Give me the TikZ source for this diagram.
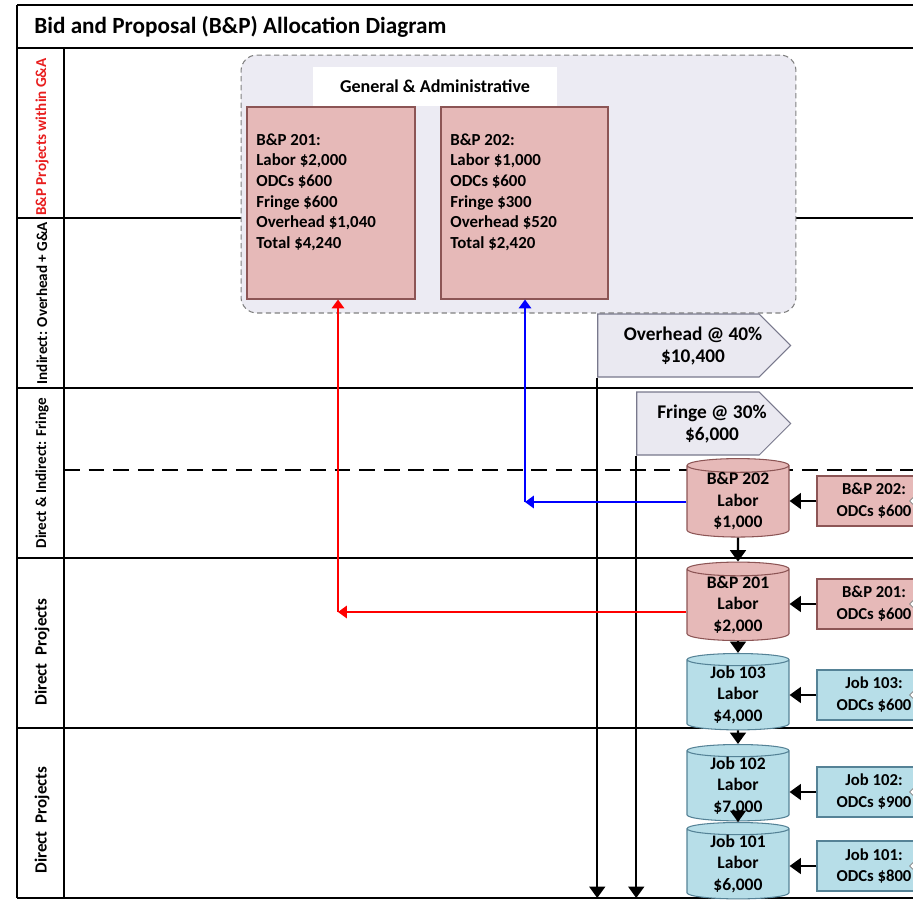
\documentclass[tikz,border=0pt]{standalone}
\usepackage{fontspec}
\setmainfont{Carlito}
\usetikzlibrary{arrows.meta}
\usetikzlibrary{shapes.geometric}
\usetikzlibrary{shapes.symbols}

\definecolor{bpfill}{RGB}{230,185,184}
\definecolor{bpdraw}{RGB}{140,85,85}
\definecolor{jobfill}{RGB}{183,222,232}
\definecolor{jobdraw}{RGB}{85,130,150}
\definecolor{gafill}{RGB}{236,235,243}
\definecolor{sigfill}{RGB}{234,233,241}
\definecolor{sigdraw}{RGB}{120,120,140}
\definecolor{lanered}{RGB}{232,30,30}

\tikzset{
  lane/.style={line width=0.8pt},
  lanelabel/.style={rotate=90, inner sep=0pt, font=\fontsize{8.6}{10}\selectfont\bfseries},
  gacont/.style={draw=gray, densely dashed, line width=0.6pt, fill=gafill, rounded corners=9pt,
    minimum width=11.1cm, minimum height=5.16cm},
  galabel/.style={fill=white, minimum width=4.88cm, minimum height=0.78cm,
    font=\fontsize{10.3}{12}\selectfont\bfseries},
  bpbox/.style={draw=bpdraw, fill=bpfill, line width=0.6pt, minimum height=3.84cm},
  boxtext/.style={anchor=north west, inner sep=0pt, align=left,
    font=\fontsize{9.6}{11.8}\selectfont\bfseries},
  rate/.style={shape=signal, signal to=east, signal pointer angle=90, draw=sigdraw, fill=sigfill,
    line width=0.6pt, minimum height=1.26cm, inner sep=0pt},
  ratetext/.style={align=center, inner sep=0pt, font=\fontsize{11}{13}\selectfont\bfseries},
  labor/.style={shape=cylinder, shape border rotate=90, aspect=0.22, draw, line width=0.6pt,
    minimum width=2.04cm, minimum height=1.28cm, inner sep=0pt, align=center,
    font=\fontsize{10}{12.2}\selectfont\bfseries},
  bplabor/.style={labor, draw=bpdraw, fill=bpfill},
  joblabor/.style={labor, draw=jobdraw, fill=jobfill},
  odc/.style={draw, line width=0.6pt, minimum width=2.28cm, minimum height=1.0cm, align=center,
    inner sep=0pt, font=\fontsize{9.5}{12.5}\selectfont\bfseries},
  bpodc/.style={odc, draw=bpdraw, fill=bpfill},
  jobodc/.style={odc, draw=jobdraw, fill=jobfill},
  tipmark/.style={diamond, draw=gray, fill=white, inner sep=0pt, minimum size=0.24cm},
  flow/.style={line width=1.3pt, -{Triangle[width=9pt,length=6.5pt]}},
  redflow/.style={line width=1.1pt, draw=red, -{Triangle[width=7pt,length=5pt]}},
  blueflow/.style={line width=1.1pt, draw=blue, -{Triangle[width=7pt,length=5pt]}}
}

\begin{document}
\begin{tikzpicture}[x=0.02cm, y=-0.02cm]
      \useasboundingbox (0,0) rectangle (913,900);
      \clip (0,0) rectangle (913,900);

      % frame and swim lanes
      \draw[line width=1pt] (17,5) -- (913,5);
      \foreach \y in {48,218,388,558,728,898}
        \draw[lane] (17,\y) -- (913,\y);
      \draw[line width=1pt] (17,5) -- (17,898);
      \draw[lane] (64,48) -- (64,898);
      \draw[line width=1.1pt, dash pattern=on 9pt off 5pt] (64,470) -- (913,470);
      \coordinate (floor) at (0,898);

      \node[anchor=west, inner sep=0pt, font=\fontsize{13.2}{15}\selectfont\bfseries] (title) at (34,27)
        {Bid and Proposal (B\&P) Allocation Diagram};

      \node[lanelabel, text=lanered] (lane1) at (42,137) {B\&P Projects within G\&A};
      \node[lanelabel] (lane2) at (42,303) {Indirect: Overhead + G\&A};
      \node[lanelabel] (lane3) at (42,473) {Direct \& Indirect: Fringe};
      \node[lanelabel, font=\fontsize{9.7}{11}\selectfont\bfseries] (lane4) at (42,652) {Direct~~Projects};
      \node[lanelabel, font=\fontsize{9.7}{11}\selectfont\bfseries] (lane5) at (42,820) {Direct~~Projects};

      % G&A pool
      \node[gacont] (gna) at (518.5,184) {};
      \node[galabel] (gnalabel) at (435,86.5) {General \& Administrative};
      \node[bpbox, minimum width=3.36cm] (bp201) at (331,203) {};
      \node[bpbox, minimum width=3.34cm] (bp202) at (524.5,203) {};
      \node[boxtext] (bp201text) at (256,133)
        {B\&P 201:\\Labor \$2,000\\ODCs \$600\\Fringe \$600\\Overhead \$1,040\\Total \$4,240};
      \node[boxtext] (bp202text) at (450,133)
        {B\&P 202:\\Labor \$1,000\\ODCs \$600\\Fringe \$300\\Overhead \$520\\Total \$2,420};

      % rates
      \node[rate, minimum width=3.86cm] (ovh) at (678.5,345.5) {};
      \node[ratetext] (ovhtext) at (693,346) {Overhead @ 40\%\\\$10,400};
      \node[rate, minimum width=3.08cm] (fri) at (698,423.5) {};
      \node[ratetext] (fritext) at (712,424) {Fringe @ 30\%\\\$6,000};

      % labor pools
      \node[bplabor] (c202) at (738,501.5) {B\&P 202\\Labor\\\$1,000};
      \node[bplabor] (c201) at (738,605) {B\&P 201\\Labor\\\$2,000};
      \node[joblabor] (c103) at (738,695) {Job 103\\Labor\\\$4,000};
      \node[joblabor] (c102) at (738,786) {Job 102\\Labor\\\$7,000};
      \node[joblabor] (c101) at (738,864) {Job 101\\Labor\\\$6,000};

      % other direct costs
      \node[bpodc] (o202) at (874,501) {B\&P 202:\\ODCs \$600};
      \node[bpodc] (o201) at (874,604) {B\&P 201:\\ODCs \$600};
      \node[jobodc] (o103) at (874,695) {Job 103:\\ODCs \$600};
      \node[jobodc] (o102) at (874,792) {Job 102:\\ODCs \$900};
      \node[jobodc] (o101) at (874,866) {Job 101:\\ODCs \$800};
      \foreach \o in {o202,o201,o103,o102,o101}
        \node[tipmark] (\o tip) at ([xshift=1.98cm]\o.west) {};

      \foreach \o/\c in {o202/c202,o201/c201,o103/c103,o102/c102,o101/c101}
        \draw[flow] (\o.west) -- (\o.west -| \c.east);
      \draw[flow] (c202.south) -- (c201.north);
      \draw[flow] (c201.south) -- (c103.north);
      \draw[flow] (c103.south) -- (c102.north);
      \draw[flow] (c102.south) -- (c101.north);

      \draw[flow] (ovh.south west) -- (ovh.south west |- floor);
      \draw[flow] (fri.south west) -- (fri.south west |- floor);

      % transfers back into G&A
      \coordinate (bluebend) at (525,502);
      \coordinate (redbend) at (338,612);
      \draw[blueflow] (c202.west |- bluebend) -- (bluebend);
      \draw[blueflow] (bluebend) -- (bluebend |- bp202.south);
      \draw[redflow] (c201.west |- redbend) -- (redbend);
      \draw[redflow] (redbend) -- (redbend |- bp201.south);
\end{tikzpicture}
\end{document}
